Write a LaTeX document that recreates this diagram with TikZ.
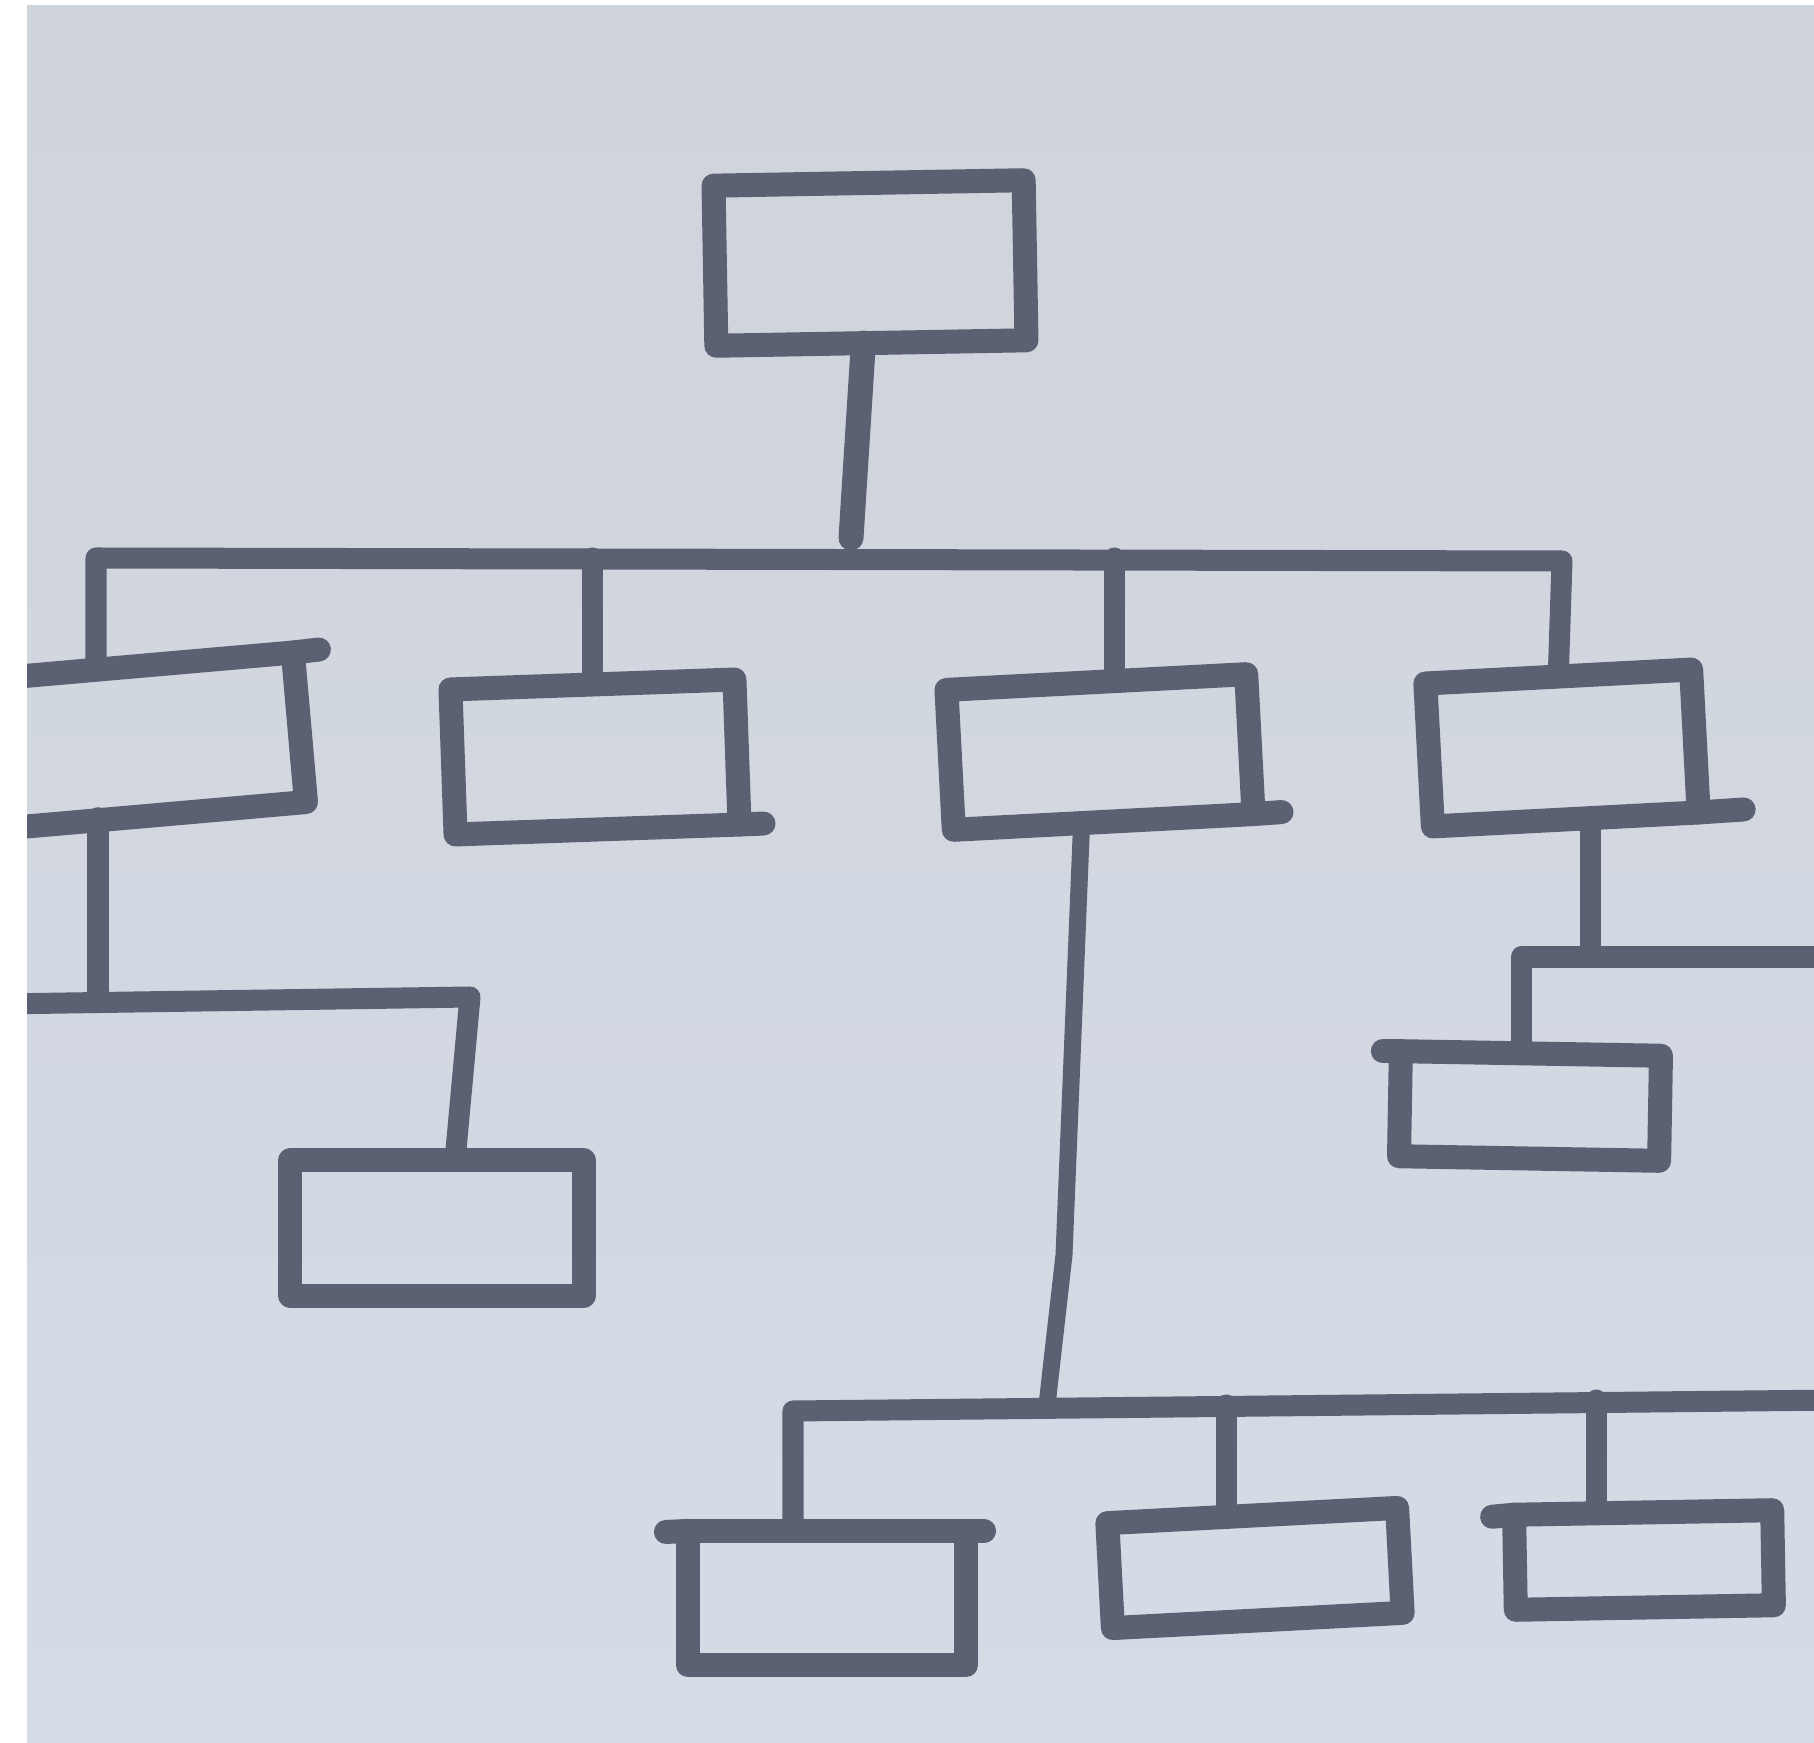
\documentclass[tikz,border=0pt]{standalone}
\usepackage{tikz}

\definecolor{inkgrey}{RGB}{91,97,114}
\definecolor{papertop}{RGB}{207,211,218}
\definecolor{paperbot}{RGB}{213,220,231}

\begin{document}
\begin{tikzpicture}[
    x=0.01cm, y=-0.01cm,
    ink/.style={draw=inkgrey, line width=0.21cm, line cap=round, line join=round},
    rim/.style={draw=inkgrey, line width=0.24cm, line cap=round, line join=round},
    card/.style={draw=inkgrey, rectangle, line width=0.24cm, line join=round, inner sep=0pt, outer sep=0pt}
]
    \useasboundingbox (0,0) rectangle (1814,1743);
    \fill[white] (0,0) rectangle (1814,1743);

    \begin{scope}
    \clip (27,6) rectangle (1814,1743);
    \shade[top color=papertop, bottom color=paperbot] (27,6) rectangle (1814,1743);

    % Top box
    \node[card, minimum width=3.1cm, minimum height=1.6cm, rotate=1] (head) at (870,263) {};
    \coordinate (stemend) at (851,538);
    \draw[ink, line width=0.25cm] ([xshift=-0.08cm]head.south) -- (stemend);

    % First level
    \node[card, minimum width=3.6cm, minimum height=1.5cm, rotate=5] (boxa) at (120,743) {};
    \node[card, minimum width=2.84cm, minimum height=1.45cm, rotate=2] (boxc) at (595,757) {};
    \node[card, minimum width=3.0cm, minimum height=1.4cm, rotate=3] (boxd) at (1100,752) {};
    \node[card, minimum width=2.66cm, minimum height=1.43cm, rotate=3] (boxe) at (1562,748) {};

    \coordinate (busL) at (96,558);
    \coordinate (busR) at (1562,561);
    \coordinate (dtop) at ([xshift=0.18cm]boxd.north);

    \draw[ink] (busL |- boxa.north) -- (busL) -- (busR) -- (boxe.north);
    \draw[ink] (boxc.north |- busL) -- (boxc.north);
    \draw[ink] (dtop |- busL) -- (dtop);

    % Overhanging strokes
    \draw[rim] (boxa.north east) -- ++(26,-3);
    \draw[rim] (boxc.south east) -- ++(24,-1);
    \draw[rim] (boxd.south east) -- ++(28,-2);
    \draw[rim] (boxe.south east) -- ++(45,-3);

    % Left branch
    \node[card, minimum width=2.93cm, minimum height=1.35cm] (boxb) at (437,1228) {};
    \coordinate (aout) at (98,1002);
    \coordinate (bus2L) at (0,1004);
    \coordinate (bus2R) at (470,997);
    \draw[ink] (aout |- boxa.south) -- (aout);
    \draw[ink] (bus2L) -- (bus2R) -- ([xshift=0.18cm]boxb.north);

    % Right branch
    \node[card, minimum width=2.6cm, minimum height=1.05cm, rotate=-1] (boxf) at (1530,1106) {};
    \coordinate (eout) at ([xshift=0.25cm]boxe.south);
    \coordinate (bus3L) at (1521,957);
    \coordinate (bus3R) at (1840,957);
    \draw[ink] (eout) -- (eout |- bus3L);
    \draw[ink] (bus3R) -- (bus3L) -- (bus3L |- boxf.north);
    \draw[rim] (boxf.north west) -- ++(-18,0);

    % Bottom level
    \node[card, minimum width=2.78cm, minimum height=1.34cm] (boxg) at (827,1598) {};
    \node[card, minimum width=2.9cm, minimum height=1.05cm, rotate=3] (boxh) at (1255,1568) {};
    \node[card, minimum width=2.58cm, minimum height=0.95cm, rotate=1] (boxk) at (1644,1560) {};

    \coordinate (dout) at ([xshift=-0.22cm]boxd.south);
    \coordinate (kink) at (1064,1255);
    \coordinate (bus4L) at (793,1411);
    \coordinate (bus4M) at (1047,1405);
    \coordinate (bus4R) at (1840,1400);
    \coordinate (htop) at ([xshift=-0.26cm]boxh.north);
    \coordinate (ktop) at ([xshift=-0.47cm]boxk.north);

    \draw[ink, line width=0.17cm] (dout) -- (kink) -- (bus4M);
    \draw[ink] (bus4L |- boxg.north) -- (bus4L) -- (bus4R);
    \draw[ink] (htop |- bus4M) -- (htop);
    \draw[ink] (ktop |- bus4R) -- (ktop);

    \draw[rim] (boxg.north west) -- ++(-22,1);
    \draw[rim] (boxg.north east) -- ++(18,0);
    \draw[rim] (boxk.north west) -- ++(-22,2);
    \end{scope}

\end{tikzpicture}
\end{document}
